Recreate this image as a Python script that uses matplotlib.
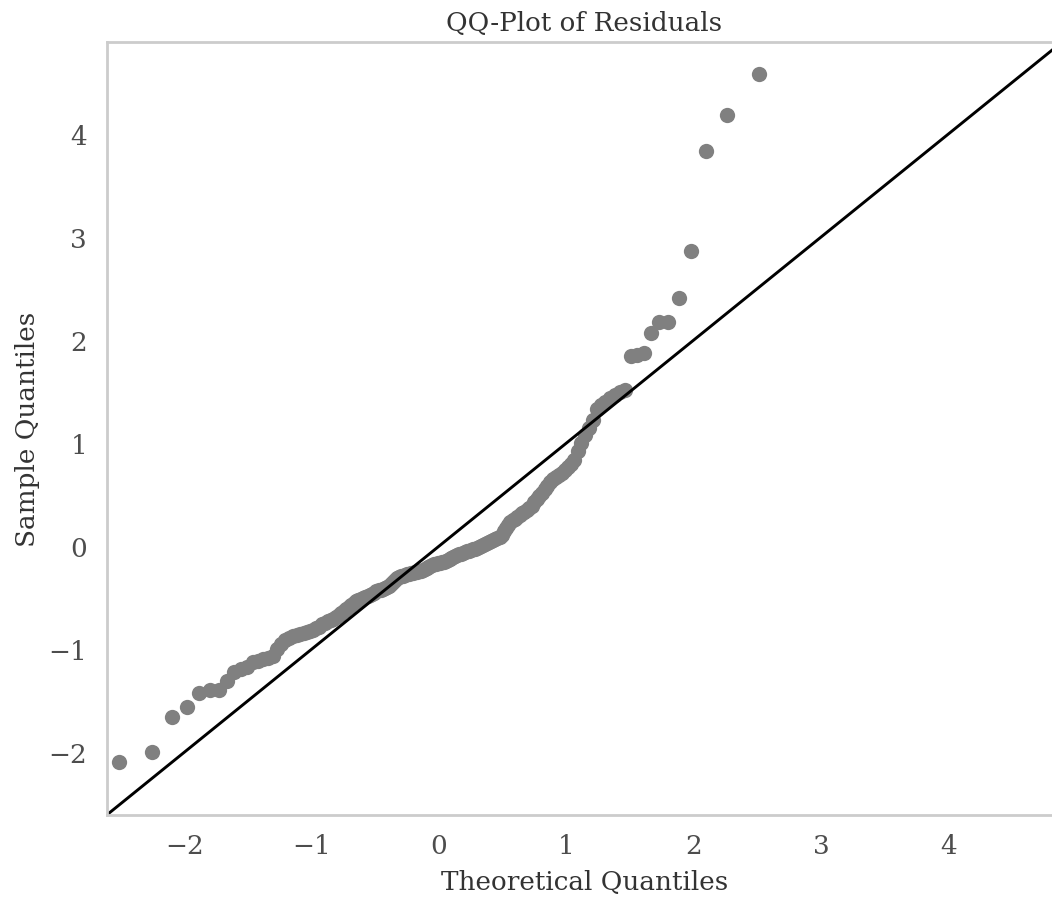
import numpy as np
import matplotlib
matplotlib.use('Agg')
import matplotlib.pyplot as plt
import seaborn as sns
from statistics import NormalDist

# sorted model residuals (sample quantiles), 165 observations
residuals = [
    -2.10, -2.00, -1.66, -1.56, -1.43, -1.40, -1.40, -1.31, -1.22, -1.19,
    -1.17, -1.12, -1.11, -1.10, -1.09, -1.07, -1.00, -0.95, -0.91, -0.89,
    -0.87, -0.86, -0.85, -0.84, -0.83, -0.82, -0.81, -0.79, -0.78, -0.76,
    -0.75, -0.73, -0.72, -0.71, -0.69, -0.67, -0.65, -0.63, -0.61, -0.59,
    -0.57, -0.55, -0.53, -0.52, -0.51, -0.50, -0.49, -0.48, -0.47, -0.46,
    -0.45, -0.44, -0.43, -0.43, -0.42, -0.41, -0.40, -0.39, -0.37, -0.35,
    -0.33, -0.31, -0.30, -0.29, -0.285, -0.28, -0.275, -0.27, -0.265, -0.26,
    -0.255, -0.25, -0.245, -0.24, -0.23, -0.22, -0.21, -0.20, -0.19, -0.18,
    -0.175, -0.17, -0.165, -0.16, -0.155, -0.15, -0.14, -0.13, -0.12, -0.115,
    -0.11, -0.10, -0.09, -0.08, -0.075, -0.07, -0.06, -0.05, -0.045, -0.04,
    -0.03, -0.025, -0.02, -0.01, 0.00, 0.01, 0.02, 0.03, 0.04, 0.05,
    0.06, 0.07, 0.08, 0.09, 0.11, 0.15, 0.18, 0.21, 0.23, 0.25,
    0.26, 0.28, 0.30, 0.32, 0.33, 0.35, 0.37, 0.39, 0.43, 0.46,
    0.49, 0.52, 0.55, 0.58, 0.62, 0.65, 0.67, 0.69, 0.71, 0.74,
    0.77, 0.80, 0.84, 0.92, 1.00, 1.08, 1.15, 1.22, 1.33, 1.37,
    1.40, 1.44, 1.47, 1.50, 1.52, 1.85, 1.86, 1.87, 2.07, 2.18,
    2.18, 2.41, 2.86, 3.84, 4.18, 4.58,
]
lims = [-2.61, 4.89]
ticks = [-2, -1, 0, 1, 2, 3, 4]

# theoretical normal quantiles at plotting positions i/(n+1)
n = len(residuals)
theoretical = [NormalDist().inv_cdf(i / (n + 1)) for i in range(1, n + 1)]

sns.set_theme(style='whitegrid')
plt.rcParams['font.family'] = ['DejaVu Serif']

fig = plt.figure(figsize=(10.52, 9.03), dpi=100)
ax = fig.add_axes([0.1014, 0.0963, 0.9078, 0.8557])
ax.grid(False)

ax.plot(theoretical, residuals, 'o', color='#808080', markersize=11,
        markeredgewidth=0)
ax.plot(lims, lims, color='black', lw=2.1)

ax.set_xlim(lims)
ax.set_ylim(lims)
ax.set_xticks(ticks)
ax.set_yticks(ticks)
for s in ax.spines.values():
    s.set_color('#cccccc')
    s.set_linewidth(2.0)

ax.tick_params(labelsize=18.9, colors='#4d4d4d', length=0)
ax.tick_params(axis='x', pad=13)
ax.tick_params(axis='y', pad=14)
ax.set_xlabel('Theoretical Quantiles', fontsize=18.9, color='#333333', labelpad=8)
ax.set_ylabel('Sample Quantiles', fontsize=18.9, color='#333333', labelpad=6)
ax.set_title('QQ-Plot of Residuals', fontsize=18.9, color='#333333', pad=9)

fig.savefig('out.png', dpi=100)
